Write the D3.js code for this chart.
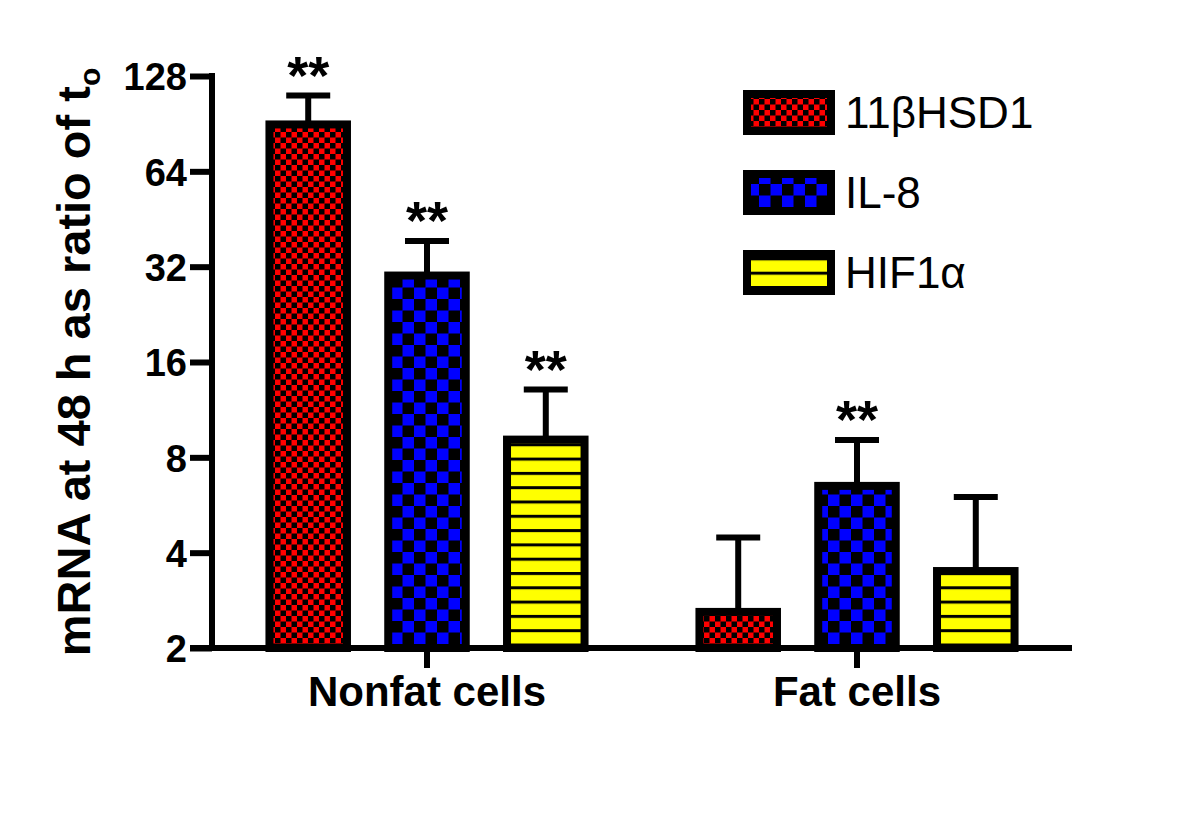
<html>
<head>
<meta charset="utf-8">
<script src="https://d3js.org/d3.v7.min.js"></script>
<style>
  body { margin: 0; background: #fff; }
  text { font-family: "Liberation Sans", Arial, sans-serif; fill: #000; }
  .tick-label { font-size: 38px; font-weight: bold; }
  .group-label { font-size: 42px; font-weight: bold; }
  .ytitle { font-size: 47px; font-weight: bold; }
  .legend-text { font-size: 44px; }
  .star { font-size: 54px; font-weight: bold; }
</style>
</head>
<body>
<script>
// data
var groups = ["Nonfat cells", "Fat cells"];
var series = ["11\u03b2HSD1", "IL-8", "HIF1\u03b1"];
var means = [[90, 30, 9.1], [2.6, 6.5, 3.5]];
var errTops = [[111, 38.6, 13.1], [4.47, 9.07, 6.0]];
var stars = [[true, true, true], [false, true, false]];
var yTicks = [2, 4, 8, 16, 32, 64, 128];

var width = 1200, height = 821;

var svg = d3.select("body").append("svg")
    .attr("width", width)
    .attr("height", height);

// fill patterns
var defs = svg.append("defs");

var pRed = defs.append("pattern").attr("id", "pRed")
    .attr("patternUnits", "userSpaceOnUse").attr("width", 11).attr("height", 11);
pRed.append("rect").attr("width", 11).attr("height", 11).attr("fill", "#ff0000");
pRed.append("rect").attr("width", 5.5).attr("height", 5.5).attr("fill", "#000");
pRed.append("rect").attr("x", 5.5).attr("y", 5.5).attr("width", 5.5).attr("height", 5.5).attr("fill", "#000");

var pBlue = defs.append("pattern").attr("id", "pBlue")
    .attr("patternUnits", "userSpaceOnUse").attr("width", 23).attr("height", 23);
pBlue.append("rect").attr("width", 23).attr("height", 23).attr("fill", "#0000ff");
pBlue.append("rect").attr("width", 11.5).attr("height", 11.5).attr("fill", "#000");
pBlue.append("rect").attr("x", 11.5).attr("y", 11.5).attr("width", 11.5).attr("height", 11.5).attr("fill", "#000");

var pYel = defs.append("pattern").attr("id", "pYel")
    .attr("patternUnits", "userSpaceOnUse").attr("width", 14).attr("height", 14.3);
pYel.append("rect").attr("width", 14).attr("height", 14.3).attr("fill", "#ffff00");
pYel.append("rect").attr("y", 0).attr("width", 14).attr("height", 3).attr("fill", "#000");

var fills = ["url(#pRed)", "url(#pBlue)", "url(#pYel)"];

// scales
var x0 = d3.scaleBand().domain(groups).range([212, 1072]);
var x1 = d3.scaleBand().domain(series).range([0, x0.bandwidth()])
    .paddingInner(0.28).paddingOuter(0.45);
var y = d3.scaleLog().base(2).domain([2, 128]).range([648, 76]);

// bars, error bars, stars
groups.forEach(function (g, gi) {
    series.forEach(function (s, si) {
        var bx = x0(g) + x1(s);
        var bw = x1.bandwidth();
        var cx = bx + bw / 2;
        var top = y(means[gi][si]);
        var et = y(errTops[gi][si]);

        // error bar
        svg.append("line")
            .attr("x1", cx).attr("x2", cx)
            .attr("y1", top).attr("y2", et)
            .attr("stroke", "#000").attr("stroke-width", 6);
        svg.append("line")
            .attr("x1", cx - 22).attr("x2", cx + 22)
            .attr("y1", et).attr("y2", et)
            .attr("stroke", "#000").attr("stroke-width", 6);

        svg.append("rect")
            .attr("x", bx + 4)
            .attr("y", top)
            .attr("width", bw - 8)
            .attr("height", y(2) - top)
            .attr("fill", fills[si])
            .attr("stroke", "#000")
            .attr("stroke-width", 8);

        if (stars[gi][si]) {
            svg.append("text")
                .attr("class", "star")
                .attr("x", cx)
                .attr("y", et - 2)
                .attr("text-anchor", "middle")
                .text("**");
        }
    });
});

// y axis
var yAxis = svg.append("g")
    .attr("transform", "translate(212,0)")
    .call(d3.axisLeft(y).tickValues(yTicks).tickFormat(d3.format("d")).tickSize(22).tickSizeOuter(0));
yAxis.select(".domain").attr("stroke", "#000").attr("stroke-width", 6)
    .attr("d", "M0," + (y(128) - 3) + "V" + y(2));
yAxis.selectAll(".tick line").attr("stroke", "#000").attr("stroke-width", 6);
yAxis.selectAll(".tick text").attr("class", "tick-label").attr("x", -25).attr("dy", "0.36em");

// x axis
var xAxis = svg.append("g")
    .attr("transform", "translate(0," + y(2) + ")")
    .call(d3.axisBottom(x0).tickSize(20).tickSizeOuter(0));
xAxis.select(".domain").attr("stroke", "#000").attr("stroke-width", 6)
    .attr("d", "M190,0H1072");
xAxis.selectAll(".tick line").attr("stroke", "#000").attr("stroke-width", 6);
xAxis.selectAll(".tick text").attr("class", "group-label").attr("y", 28).attr("dy", "0.71em");

// y title
var yt = svg.append("text")
    .attr("class", "ytitle")
    .attr("transform", "translate(90,362) rotate(-90)")
    .attr("text-anchor", "middle");
yt.append("tspan").text("mRNA at 48 h as ratio of t");
yt.append("tspan").attr("font-size", "30px").attr("dy", 10).text("o");

// legend
series.forEach(function (s, i) {
    var ly = 112 + i * 80;
    svg.append("rect")
        .attr("x", 747).attr("y", ly - 18)
        .attr("width", 84).attr("height", 37)
        .attr("fill", fills[i])
        .attr("stroke", "#000").attr("stroke-width", 8);
    svg.append("text")
        .attr("class", "legend-text")
        .attr("x", 845).attr("y", ly)
        .attr("dy", "0.36em")
        .text(s);
});
</script>
</body>
</html>
